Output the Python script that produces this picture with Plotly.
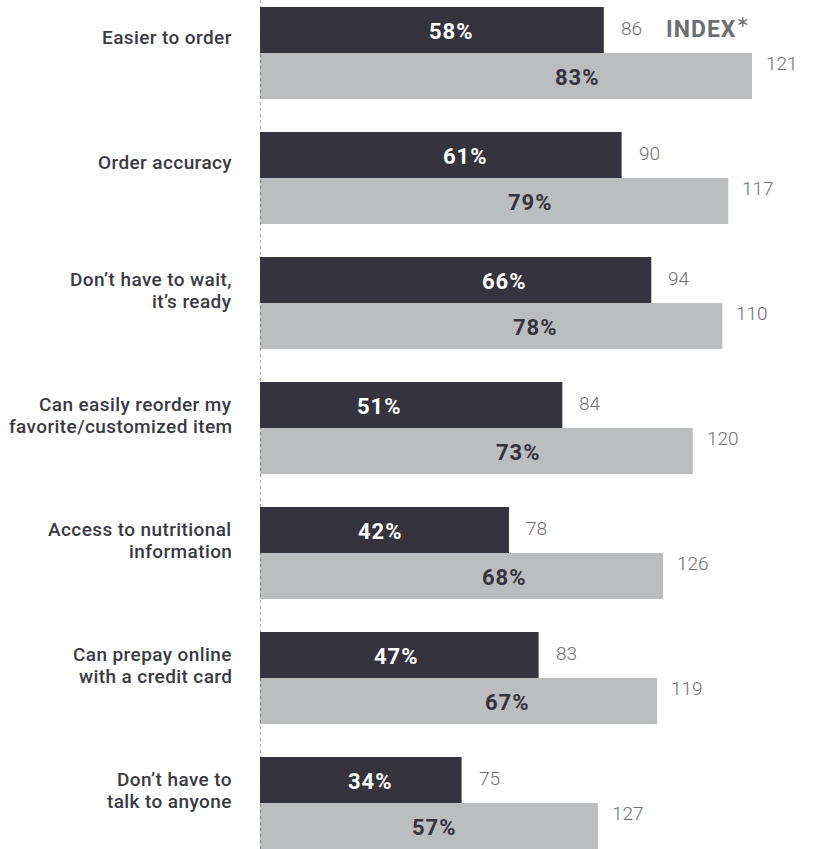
import plotly.graph_objects as go

# Reasons for ordering digitally: share of respondents (%) and index
categories = [
    "Easier to order",
    "Order accuracy",
    "Don\u2019t have to wait,<br>it\u2019s ready",
    "Can easily reorder my<br>favorite/customized item",
    "Access to nutritional<br>information",
    "Can prepay online<br>with a credit card",
    "Don\u2019t have to<br>talk to anyone",
]
dark_values = [58, 61, 66, 51, 42, 47, 34]
light_values = [83, 79, 78, 73, 68, 67, 57]
dark_index = [86, 90, 94, 84, 78, 83, 75]
light_index = [121, 117, 110, 120, 126, 119, 127]

# where each percentage label sits along its bar (in % units)
dark_label_x = [32.3, 34.6, 41.2, 20.2, 20.4, 23.1, 18.7]
light_label_x = [53.6, 45.7, 46.4, 43.6, 41.3, 41.8, 29.4]

DARK = "#35333d"
LIGHT = "#bcbdbf"
INDEX_GREY = "#6d6e71"
LABEL = "#3b3a42"
FONT = "Roboto"
LINE_GAP = 22.5  # px between lines of a category label


def spaced(text, px):
    return f"<span style='letter-spacing:{px}px'>{text}</span>"


pos = list(range(len(categories)))
half = 0.184  # half of one bar's thickness in category units

fig = go.Figure()
fig.add_trace(go.Bar(y=pos, x=dark_values, orientation="h",
                     marker=dict(color=DARK, line=dict(width=0)),
                     hoverinfo="skip", showlegend=False))
fig.add_trace(go.Bar(y=pos, x=light_values, orientation="h",
                     marker=dict(color=LIGHT, line=dict(width=0)),
                     hoverinfo="skip", showlegend=False))

ann = []
for i, cat in enumerate(categories):
    yd = i - half
    yl = i + half
    # percentage labels inside bars
    ann.append(dict(x=dark_label_x[i], y=yd, text=spaced(f"{dark_values[i]}%", 1),
                    showarrow=False, xanchor="center", yanchor="middle", yshift=-1,
                    font=dict(family=FONT, size=22, color="white", weight="bold")))
    ann.append(dict(x=light_label_x[i], y=yl, text=spaced(f"{light_values[i]}%", 1),
                    showarrow=False, xanchor="center", yanchor="middle", yshift=-1,
                    font=dict(family=FONT, size=22, color=DARK, weight="bold")))
    # index values to the right of the bars
    ann.append(dict(x=dark_values[i], y=yd, text=str(dark_index[i]),
                    showarrow=False, xanchor="left", yanchor="middle",
                    xshift=15, yshift=2,
                    font=dict(family=FONT, size=19, color=INDEX_GREY, weight=300)))
    ann.append(dict(x=light_values[i], y=yl, text=str(light_index[i]),
                    showarrow=False, xanchor="left", yanchor="middle",
                    xshift=12, yshift=13,
                    font=dict(family=FONT, size=19, color=INDEX_GREY, weight=300)))
    # category labels, one annotation per line for tight line spacing
    lines = cat.split("<br>")
    n = len(lines)
    for k, line in enumerate(lines):
        offset = 7 + (n - 1) * 3.5 + (k - (n - 1) / 2) * LINE_GAP
        ann.append(dict(x=0, y=yd, text=spaced(line, 0.4), showarrow=False,
                        xanchor="right", yanchor="middle", align="right",
                        valign="middle", borderpad=0,
                        xshift=-27, yshift=-offset,
                        font=dict(family=FONT, size=19, color=LABEL, weight=500)))

ann.append(dict(x=dark_values[0], y=-half,
                text=spaced("INDEX", 1)
                + "<span style='font-weight:300'><sup>\u2217</sup></span>",
                showarrow=False, xanchor="left", yanchor="middle",
                xshift=60, yshift=3,
                font=dict(family=FONT, size=23, color=INDEX_GREY, weight="bold")))

fig.update_layout(
    width=828, height=849,
    margin=dict(l=260, r=0, t=0, b=0),
    paper_bgcolor="white", plot_bgcolor="white",
    barmode="group", bargap=0.264, bargroupgap=0,
    xaxis=dict(range=[0, 568 / 5.928], visible=False, fixedrange=True),
    yaxis=dict(range=[6.368, -0.424], visible=False, fixedrange=True),
    annotations=ann,
    shapes=[dict(type="line", xref="x", yref="paper", x0=0, x1=0, y0=0, y1=1,
                 line=dict(color="#444444", width=1, dash="dot"), layer="above")],
)

fig.write_html("out.html")
